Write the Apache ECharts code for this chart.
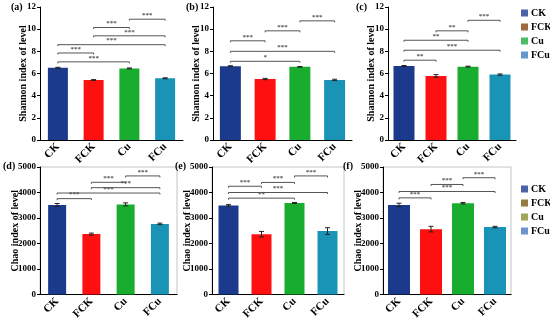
<!DOCTYPE html>
<html><head><meta charset="utf-8">
<script src="https://cdn.jsdelivr.net/npm/echarts@6/dist/echarts.min.js"></script>
<style>html,body{margin:0;padding:0;background:#fff}#c{width:550px;height:322px}</style>
</head><body><div id="c"></div>
<script>
// ---- data ----
const categories = ['CK', 'FCK', 'Cu', 'FCu'];
const panelLabels = ['(a)', '(b)', '(c)', '(d)', '(e)', '(f)'];
const shannonTicks = [0, 2, 4, 6, 8, 10, 12];
const chaoTicks = [0, 1000, 2000, 3000, 4000, 5000];

const shannonA = [6.52, 5.41, 6.46, 5.57];
const errA = [0.04, 0.04, 0.04, 0.04];
const shannonB = [6.66, 5.50, 6.60, 5.42];
const errB = [0.04, 0.06, 0.03, 0.06];
const shannonC = [6.68, 5.78, 6.62, 5.90];
const errC = [0.04, 0.12, 0.04, 0.06];
const chaoD = [3510, 2370, 3535, 2770];
const errD = [60, 40, 60, 30];
const chaoE = [3495, 2365, 3590, 2490];
const errE = [30, 110, 20, 130];
const chaoF = [3510, 2565, 3580, 2645];
const errF = [70, 110, 30, 30];

// significance brackets: [from, to, height, label]
const sigA = [[0,2,7.05,'***'],[0,1,7.85,'***'],[0,3,8.6,'***'],[1,3,9.4,'***'],[1,2,10.15,'***'],[2,3,10.9,'***']];
const sigB = [[0,2,7.1,'*'],[0,3,8.0,'***'],[0,1,8.95,'***'],[1,2,9.85,'***'],[2,3,10.75,'***']];
const sigC = [[0,1,7.2,'**'],[0,3,8.1,'***'],[0,2,9.0,'**'],[1,2,9.85,'**'],[2,3,10.8,'***']];
const sigD = [[0,1,3760,'***'],[0,3,3980,'***'],[1,3,4190,'***'],[1,2,4400,'***'],[2,3,4650,'***']];
const sigE = [[0,2,3780,'**'],[0,3,4000,'***'],[0,1,4245,'***'],[1,2,4395,'***'],[2,3,4650,'***']];
const sigF = [[0,1,3790,'***'],[0,3,4040,'***'],[1,2,4315,'***'],[2,3,4580,'***']];

// ---- styles ----
const barColors = ['#1b3a8c', '#ff1010', '#18ad2e', '#1a94b6'];
const legendTopColors = ['#1f3a93', '#8b4513', '#1fae3a', '#3a7fc0'];
const legendBotColors = ['#1f3a93', '#7a5a14', '#8a8f2e', '#4a78c0'];
const FONT = '"Liberation Serif", "Times New Roman", serif';

const panels = [
  {vals: shannonA, errs: errA, sig: sigA, ticks: shannonTicks, name: 'Shannon index of level', grid: {left: 40, top: 7, width: 143, height: 133}, bw: 20, gap: 12, lab: [11, 2], frame: false},
  {vals: shannonB, errs: errB, sig: sigB, ticks: shannonTicks, name: 'Shannon index of level', grid: {left: 213, top: 7, width: 139, height: 133}, bw: 21, gap: 12, lab: [186, 2], frame: false},
  {vals: shannonC, errs: errC, sig: sigC, ticks: shannonTicks, name: 'Shannon index of level', grid: {left: 388, top: 7, width: 128, height: 133}, bw: 21, gap: 12, lab: [356, 2], frame: false},
  {vals: chaoD, errs: errD, sig: sigD, ticks: chaoTicks, name: 'Chao index of level', grid: {left: 40, top: 167, width: 137, height: 134}, bw: 18, gap: 20, lab: [3, 161], frame: true},
  {vals: chaoE, errs: errE, sig: sigE, ticks: chaoTicks, name: 'Chao index of level', grid: {left: 212, top: 167, width: 132, height: 133}, bw: 20, gap: 20, lab: [175, 161], frame: true},
  {vals: chaoF, errs: errF, sig: sigF, ticks: chaoTicks, name: 'Chao index of level', grid: {left: 383, top: 167, width: 128, height: 133}, bw: 22, gap: 20, lab: [343, 161], frame: true}
];

const grids = [], xAxes = [], yAxes = [], series = [], graphics = [];

panels.forEach((p, k) => {
  const t = p.ticks;
  grids.push(Object.assign({show: p.frame, borderColor: '#c4c4c4', borderWidth: 1}, p.grid));
  xAxes.push({
    type: 'category', gridIndex: k, data: categories,
    axisLine: {lineStyle: {color: '#000', width: 1}},
    axisTick: {show: false},
    axisLabel: {rotate: 45, margin: 5, fontFamily: FONT, fontWeight: 'bold', fontSize: 11, color: '#000'}
  });
  yAxes.push({
    type: 'value', gridIndex: k, min: t[0], max: t[t.length - 1], interval: t[1] - t[0],
    name: p.name, nameLocation: 'middle', nameGap: p.gap, nameMoveOverlap: false,
    nameTextStyle: {fontFamily: FONT, fontWeight: 'bold', fontSize: 10, color: '#000'},
    axisLine: {show: true, lineStyle: {color: '#000', width: 1}},
    axisTick: {show: true, length: 3, lineStyle: {color: '#000'}},
    splitLine: {show: false},
    axisLabel: {fontFamily: FONT, fontWeight: 'bold', fontSize: 9, color: '#000', margin: 4,
      formatter: v => String(v)}
  });
  series.push({
    type: 'bar', xAxisIndex: k, yAxisIndex: k, barWidth: p.bw,
    data: p.vals.map((v, i) => ({value: v, itemStyle: {color: barColors[i]}})),
    silent: true, z: 2
  });
  series.push({
    type: 'custom', xAxisIndex: k, yAxisIndex: k, z: 3, silent: true,
    encode: {x: 0, y: 1},
    data: p.vals.map((v, i) => [i, v, p.errs[i]]),
    renderItem: function (params, api) {
      const x = api.value(0), v = api.value(1), e = api.value(2);
      const a = api.coord([x, v + e]), b = api.coord([x, v - e]);
      const st = {stroke: '#222', lineWidth: 1};
      return {type: 'group', children: [
        {type: 'line', shape: {x1: a[0], y1: a[1], x2: b[0], y2: b[1]}, style: st},
        {type: 'line', shape: {x1: a[0] - 2.5, y1: a[1], x2: a[0] + 2.5, y2: a[1]}, style: st},
        {type: 'line', shape: {x1: b[0] - 2.5, y1: b[1], x2: b[0] + 2.5, y2: b[1]}, style: st}
      ]};
    }
  });
  const sig = p.sig;
  series.push({
    type: 'custom', xAxisIndex: k, yAxisIndex: k, z: 4, silent: true,
    encode: {x: [0, 2], y: 1},
    data: sig.map(s => [s[0], s[2], s[1]]),
    renderItem: function (params, api) {
      const a = api.coord([api.value(0), api.value(1)]);
      const b = api.coord([api.value(2), api.value(1)]);
      const st = {stroke: '#555', lineWidth: 1};
      return {type: 'group', children: [
        {type: 'line', shape: {x1: a[0], y1: a[1], x2: b[0], y2: b[1]}, style: st},
        {type: 'line', shape: {x1: a[0], y1: a[1], x2: a[0], y2: a[1] + 1.5}, style: st},
        {type: 'line', shape: {x1: b[0], y1: b[1], x2: b[0], y2: b[1] + 1.5}, style: st},
        {type: 'text', style: {text: sig[params.dataIndex][3], x: (a[0] + b[0]) / 2, y: a[1] - 0.5,
          align: 'center', verticalAlign: 'bottom', fill: '#555', font: 'bold 7px ' + FONT}}
      ]};
    }
  });
  graphics.push({type: 'text', left: p.lab[0], top: p.lab[1],
    style: {text: panelLabels[k], fill: '#000', font: 'bold 10px ' + FONT}});
});

// legend-only series
categories.forEach(c => series.push({type: 'scatter', name: c, data: [], xAxisIndex: 0, yAxisIndex: 0}));

const legendBase = {orient: 'vertical', icon: 'rect', itemWidth: 7, itemHeight: 7, itemGap: 4,
  selectedMode: false, textStyle: {fontFamily: FONT, fontWeight: 'bold', fontSize: 10, color: '#000', padding: [0, 0, 0, -2]}};

const option = {
  animation: false,
  backgroundColor: '#fff',
  grid: grids, xAxis: xAxes, yAxis: yAxes, series: series,
  legend: [
    Object.assign({}, legendBase, {left: 516, top: 3, data: categories.map((c, i) => ({name: c, itemStyle: {color: legendTopColors[i]}}))}),
    Object.assign({}, legendBase, {left: 516, top: 179, data: categories.map((c, i) => ({name: c, itemStyle: {color: legendBotColors[i]}}))})
  ],
  graphic: graphics
};
const chart = echarts.init(document.getElementById('c'), null, {renderer: 'canvas'});
chart.setOption(option);
</script></body></html>
